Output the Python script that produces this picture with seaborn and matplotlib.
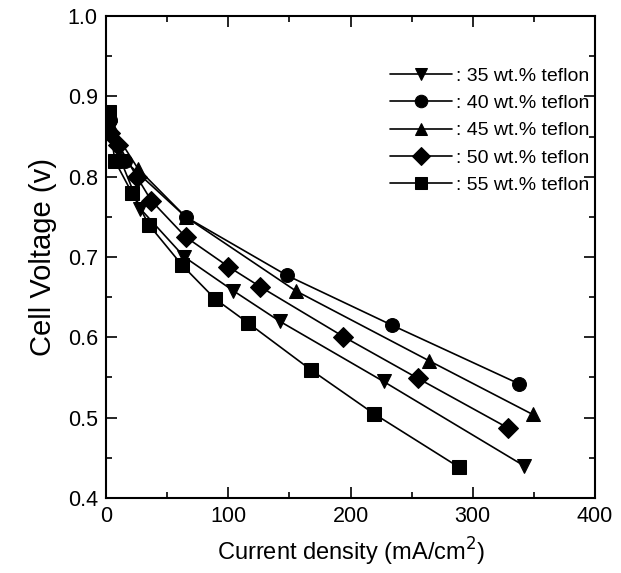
import numpy as np
import pandas as pd
import matplotlib
matplotlib.use("Agg")
import matplotlib.pyplot as plt
from matplotlib.ticker import MultipleLocator
import seaborn as sns

# current density (mA/cm2) and cell voltage (V) for each teflon content
x35 = [3, 12, 28, 64, 104, 142, 227, 342]
y35 = [0.86, 0.82, 0.76, 0.70, 0.658, 0.62, 0.545, 0.44]
x40 = [3, 15, 65, 148, 234, 338]
y40 = [0.87, 0.82, 0.75, 0.677, 0.615, 0.542]
x45 = [3, 26, 65, 155, 264, 349]
y45 = [0.865, 0.81, 0.75, 0.658, 0.571, 0.504]
x50 = [3, 10, 25, 37, 65, 100, 126, 194, 255, 329]
y50 = [0.855, 0.84, 0.80, 0.77, 0.725, 0.688, 0.663, 0.601, 0.549, 0.487]
x55 = [2, 7, 21, 35, 62, 89, 116, 168, 219, 289]
y55 = [0.88, 0.82, 0.78, 0.74, 0.69, 0.648, 0.618, 0.559, 0.505, 0.438]

labels = [": 35 wt.% teflon", ": 40 wt.% teflon", ": 45 wt.% teflon",
          ": 50 wt.% teflon", ": 55 wt.% teflon"]
markers = ["v", "o", "^", "D", "s"]

frames = []
for lab, xs, ys in zip(labels, [x35, x40, x45, x50, x55], [y35, y40, y45, y50, y55]):
    frames.append(pd.DataFrame({"x": xs, "y": ys, "series": lab}))
df = pd.concat(frames, ignore_index=True)

sns.set_style("ticks")
plt.rcParams['font.family'] = ['Liberation Sans', 'DejaVu Sans']
plt.rcParams.update({"text.color": "black", "axes.labelcolor": "black",
                     "xtick.color": "black", "ytick.color": "black"})

fig = plt.figure(figsize=(6.21, 5.73), dpi=100)
ax = fig.add_axes([0.171, 0.131, 0.787, 0.841])

sns.lineplot(data=df, x="x", y="y", hue="series", style="series",
             palette=["black"] * 5, markers=dict(zip(labels, markers)),
             dashes=False, markersize=10, markeredgecolor="black",
             linewidth=1.2, sort=False, estimator=None, ax=ax)

ax.set_xlim(0, 400)
ax.set_ylim(0.4, 1.0)
ax.xaxis.set_major_locator(MultipleLocator(100))
ax.xaxis.set_minor_locator(MultipleLocator(50))
ax.yaxis.set_major_locator(MultipleLocator(0.1))
ax.yaxis.set_minor_locator(MultipleLocator(0.05))
ax.tick_params(which="both", direction="in", top=True, right=True,
               labelsize=15.5, width=1.2, color="black", labelcolor="black")
ax.tick_params(which="major", length=8, pad=6)
ax.tick_params(which="minor", length=4)
for s in ax.spines.values():
    s.set_linewidth(1.5)
    s.set_color("black")

ax.set_xlabel("Current density (mA/cm$^2$)", fontsize=17, labelpad=6)
ax.set_ylabel("Cell Voltage (v)", fontsize=21, labelpad=8)

leg = ax.legend(loc="upper right", bbox_to_anchor=(1.005, 0.91), frameon=False,
                fontsize=14, handlelength=3.2, handletextpad=0.2,
                labelspacing=0.5, borderaxespad=0.0)
for h in leg.legend_handles:
    h.set_markersize(9)
for t in leg.get_texts():
    t.set_color("black")

fig.savefig("out.png", dpi=100)
